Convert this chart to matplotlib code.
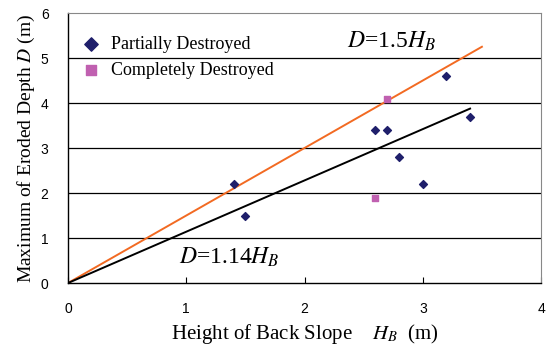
import numpy as np
import matplotlib
matplotlib.use("Agg")
import matplotlib.pyplot as plt

plt.rcParams["mathtext.fontset"] = "stix"

# partially destroyed sites
partial_h = [1.4, 1.5, 2.6, 2.7, 2.8, 3.0, 3.2, 3.4]
partial_d = [2.2, 1.5, 3.4, 3.4, 2.8, 2.2, 4.6, 3.7]

# completely destroyed sites
complete_h = [2.7, 2.6]
complete_d = [4.1, 1.9]

# envelope lines D = k * H_B
upper_k, upper_xmax = 1.5, 3.5
fit_k, fit_xmax = 1.14, 3.4

SERIF = "Liberation Serif"
SANS = "Liberation Sans"

fig = plt.figure(figsize=(5.49, 3.52), dpi=100)
ax = fig.add_axes([0.1239, 0.196, 0.8616, 0.767])

for y in range(1, 6):
    ax.axhline(y, color="black", lw=0.9, zorder=1)

xs = np.array([0, upper_xmax])
ax.plot(xs, upper_k * xs, color="#f26a22", lw=1.4, zorder=2)
xs = np.array([0, fit_xmax])
ax.plot(xs, fit_k * xs, color="black", lw=1.4, zorder=2)

ax.scatter(partial_h, partial_d, marker="D", s=16, color="#1f1f6b",
           zorder=3, label="Partially Destroyed")
ax.scatter(complete_h, complete_d, marker="s", s=16, color="#c060b0",
           zorder=3, label="Completely Destroyed")

ax.set_xlim(0, 4)
ax.set_ylim(0, 6)
ax.set_xticks([0, 1, 2, 3, 4])
ax.set_yticks([0, 1, 2, 3, 4, 5, 6])
ax.tick_params(axis="x", direction="in", length=4, pad=14, labelsize=10)
ax.tick_params(axis="y", direction="in", length=0, pad=14, labelsize=10)
for lab in ax.get_xticklabels() + ax.get_yticklabels():
    lab.set_family(SANS)

for side in ["top", "right"]:
    ax.spines[side].set_color("#888888")
for side in ["left", "bottom"]:
    ax.spines[side].set_color("black")
    ax.spines[side].set_linewidth(1.0)

ax.set_xlabel(r"Height of Back Slope    $H_B$  (m)", family=SERIF,
              fontsize=15, labelpad=4)
ax.set_ylabel(r"Maximum of Eroded Depth $D$ (m)", family=SERIF,
              fontsize=14, labelpad=3)

leg = ax.legend(loc="upper left", bbox_to_anchor=(0.0, 0.963), frameon=False,
                prop={"family": SERIF, "size": 13}, handlelength=1.2,
                handletextpad=0.5, labelspacing=0.5, markerscale=1.7,
                borderaxespad=0.3)

ax.text(0.59, 0.895, r"$D$=1.5$H_B$", transform=ax.transAxes,
        family=SERIF, fontsize=17, va="center", ha="left")
ax.text(0.235, 0.095, r"$D$=1.14$H_B$", transform=ax.transAxes,
        family=SERIF, fontsize=17, va="center", ha="left")

fig.savefig("out.png", dpi=100)
